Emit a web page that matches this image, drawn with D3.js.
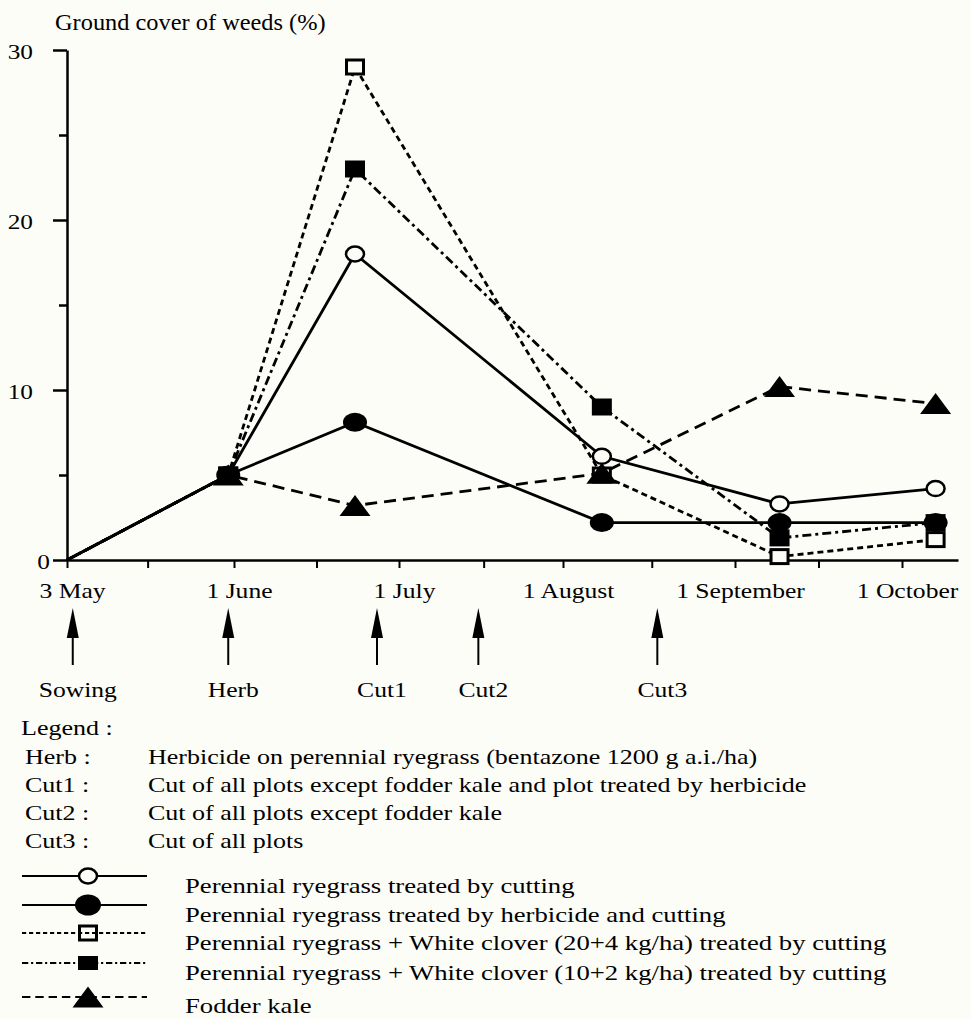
<!DOCTYPE html>
<html>
<head>
<meta charset="utf-8">
<script src="https://cdn.jsdelivr.net/npm/d3@7"></script>
<style>
  body { margin: 0; background: #fdfdf8; }
  svg { display: block; font-family: "Liberation Serif", "Times New Roman", serif; }
</style>
</head>
<body>
<script>
var svgWidth = 971;
var svgHeight = 1019;
var bg = "#fdfdf8";

// ---- data ----
var parseDate = d3.timeParse("%Y-%m-%d");

// sampling dates
var sampleDates = ["1990-05-03", "1990-05-31", "1990-06-23", "1990-08-08", "1990-09-09", "1990-10-07"];

// ground cover of weeds (%)
var ryegrassCut      = [0, 5, 18, 6.1, 3.3, 4.2];
var ryegrassHerbCut  = [0, 5, 8.1, 2.2, 2.2, 2.2];
var clover20         = [0, 5, 29, 5.0, 0.2, 1.2];
var clover10         = [0, 5, 23, 9.0, 1.3, 2.2];
var fodderKale       = [0, 5, 3.2, 5.1, 10.2, 9.2];

var seriesNames = [
  "Perennial ryegrass treated by cutting",
  "Perennial ryegrass treated by herbicide and cutting",
  "Perennial ryegrass + White clover (20+4 kg/ha) treated by cutting",
  "Perennial ryegrass + White clover (10+2 kg/ha) treated by cutting",
  "Fodder kale"
];

// x axis
var axisAnchorDates = ["1990-05-03", "1990-06-01", "1990-07-01", "1990-08-01", "1990-09-01", "1990-10-01", "1990-10-11"];
var tickDates  = ["1990-05-03", "1990-05-17", "1990-06-01", "1990-06-16", "1990-07-01", "1990-07-17",
                  "1990-08-01", "1990-08-17", "1990-09-01", "1990-09-16", "1990-10-01"];
var tickLabels = ["3 May", "", "1 June", "", "1 July", "", "1 August", "", "1 September", "", "1 October"];

// y axis
var yTicks = [0, 5, 10, 15, 20, 25, 30];
var yTickLabels = ["0", "", "10", "", "20", "", "30"];

// field operations
var eventDates  = ["1990-05-04", "1990-05-31", "1990-06-27", "1990-07-16", "1990-08-18"];
var eventLabels = ["Sowing", "Herb", "Cut1", "Cut2", "Cut3"];

// legend notes
var noteKeys = ["Herb :", "Cut1 :", "Cut2 :", "Cut3 :"];
var noteTexts = [
  "Herbicide on perennial ryegrass (bentazone 1200 g a.i./ha)",
  "Cut of all plots except fodder kale and plot treated by herbicide",
  "Cut of all plots except fodder kale",
  "Cut of all plots"
];

// ---- styles ----
var seriesValues = [ryegrassCut, ryegrassHerbCut, clover20, clover10, fodderKale];
var seriesStyles = [
  { marker: "openCircle",   dash: null },
  { marker: "filledCircle", dash: null },
  { marker: "openSquare",   dash: "6,4" },
  { marker: "filledSquare", dash: "9,4,3,4" },
  { marker: "triangle",     dash: "12,7" }
];
var drawOrder = [2, 3, 0, 1, 4];

var svg = d3.select("body")
  .append("svg")
  .attr("width", svgWidth)
  .attr("height", svgHeight);

svg.append("rect").attr("width", svgWidth).attr("height", svgHeight).attr("fill", bg);

// the scanned figure is stretched sideways, so text gets a horizontal scale
function putText(g, x, y, k, str) {
  return g.append("text")
    .attr("transform", `translate(${x}, ${y}) scale(${k}, 1)`)
    .text(str);
}

// scales
var xScale = d3.scaleTime()
  .domain(axisAnchorDates.map(parseDate))
  .range([67, 234, 399, 563, 735, 902, 958]);

var yScale = d3.scaleLinear()
  .domain([0, 30])
  .range([560, 50]);

// title
putText(svg, 55, 30, 1.06, "Ground cover of weeds (%)").attr("font-size", 23);

// x axis
var xAxis = svg.append("g")
  .attr("transform", `translate(0, ${yScale(0)})`)
  .call(d3.axisBottom(xScale)
    .tickValues(tickDates.map(parseDate))
    .tickFormat((d, i) => tickLabels[i])
    .tickSizeInner(8)
    .tickSizeOuter(0));
xAxis.select(".domain").attr("stroke-width", 2.5);
xAxis.selectAll(".tick line").attr("stroke-width", 2);
xAxis.selectAll(".tick text")
  .attr("y", null)
  .attr("dy", null)
  .attr("transform", "translate(5, 38) scale(1.22, 1)")
  .attr("font-size", 21)
  .attr("font-family", "Liberation Serif")
  .attr("fill", "#000");

// y axis
var yAxis = svg.append("g")
  .attr("transform", `translate(${xScale(parseDate(axisAnchorDates[0]))}, 0)`)
  .call(d3.axisLeft(yScale)
    .tickValues(yTicks)
    .tickFormat((d, i) => yTickLabels[i])
    .tickSizeInner(8)
    .tickSizeOuter(0));
yAxis.select(".domain").attr("stroke-width", 2.5);
yAxis.selectAll(".tick line")
  .attr("stroke-width", 2.5)
  .attr("x2", (d, i) => yTickLabels[i] ? -14 : -8);
yAxis.selectAll(".tick text")
  .attr("x", null)
  .attr("dy", null)
  .attr("transform", d => `translate(${d === 0 ? -17 : -34}, 8) scale(1.15, 1)`)
  .attr("font-size", 22)
  .attr("font-family", "Liberation Serif")
  .attr("fill", "#000");

// lines
var dates = sampleDates.map(parseDate);
var line = d3.line()
  .x((d, i) => xScale(dates[i]))
  .y(d => yScale(d));

drawOrder.forEach(function(s) {
  svg.append("path")
    .datum(seriesValues[s])
    .attr("d", line)
    .attr("fill", "none")
    .attr("stroke", "#000")
    .attr("stroke-width", 2.8)
    .attr("stroke-dasharray", seriesStyles[s].dash);
});

// markers
function drawMarker(g, type, cx, cy, legend) {
  if (type === "openCircle") {
    g.append("ellipse").attr("cx", cx).attr("cy", cy).attr("rx", 9).attr("ry", 7.5)
      .attr("fill", bg).attr("stroke", "#000").attr("stroke-width", 2.5);
  } else if (type === "filledCircle") {
    g.append("ellipse").attr("cx", cx).attr("cy", cy)
      .attr("rx", legend ? 13 : 12).attr("ry", legend ? 10.5 : 9.5)
      .attr("fill", "#000");
  } else if (type === "openSquare") {
    g.append("rect").attr("x", cx - 8.5).attr("y", cy - 7).attr("width", 17).attr("height", 14)
      .attr("fill", legend ? "none" : bg).attr("stroke", "#000").attr("stroke-width", 3);
  } else if (type === "filledSquare") {
    g.append("rect").attr("x", cx - 10).attr("y", cy - (legend ? 7 : 8.5))
      .attr("width", 20).attr("height", legend ? 14 : 17)
      .attr("fill", "#000");
  } else if (type === "triangle") {
    g.append("path")
      .attr("d", `M${cx},${cy - 10.5}L${cx + 15.5},${cy + 10.5}L${cx - 15.5},${cy + 10.5}Z`)
      .attr("fill", "#000");
  }
}

drawOrder.forEach(function(s) {
  var g = svg.append("g");
  seriesValues[s].forEach(function(v, i) {
    if (i === 0) return; // sowing point has no marker
    drawMarker(g, seriesStyles[s].marker, xScale(dates[i]), yScale(v), false);
  });
});

// event arrows
var events = svg.append("g").attr("font-size", 21).attr("text-anchor", "middle");
eventDates.forEach(function(d, i) {
  var x = xScale(parseDate(d));
  events.append("line")
    .attr("x1", x).attr("x2", x)
    .attr("y1", 630).attr("y2", 665)
    .attr("stroke", "#000").attr("stroke-width", 2);
  events.append("path")
    .attr("d", `M${x},608L${x + 6},638L${x - 6},638Z`)
    .attr("fill", "#000");
  putText(events, x + 5, 697, 1.22, eventLabels[i]);
});

// legend notes
var legend = svg.append("g").attr("font-size", 21);
putText(legend, 21, 735, 1.24, "Legend :");
noteKeys.forEach(function(k, i) {
  var y = 764 + i * 28;
  putText(legend, 25, y, 1.24, k);
  putText(legend, 148, y, 1.24, noteTexts[i]);
});

// series legend
var keyY = [876, 905, 933, 963, 997];
var textY = [893, 922, 950, 980, 1013];
seriesNames.forEach(function(name, s) {
  legend.append("line")
    .attr("x1", 22).attr("x2", 147)
    .attr("y1", keyY[s]).attr("y2", keyY[s])
    .attr("stroke", "#000").attr("stroke-width", 2.2)
    .attr("stroke-dasharray", seriesStyles[s].dash ? seriesStyles[s].dash.split(",").map(v => v * 0.7).join(",") : null);
  drawMarker(legend, seriesStyles[s].marker, 88, keyY[s], true);
  putText(legend, 185, textY[s], 1.27, name);
});
</script>
</body>
</html>
